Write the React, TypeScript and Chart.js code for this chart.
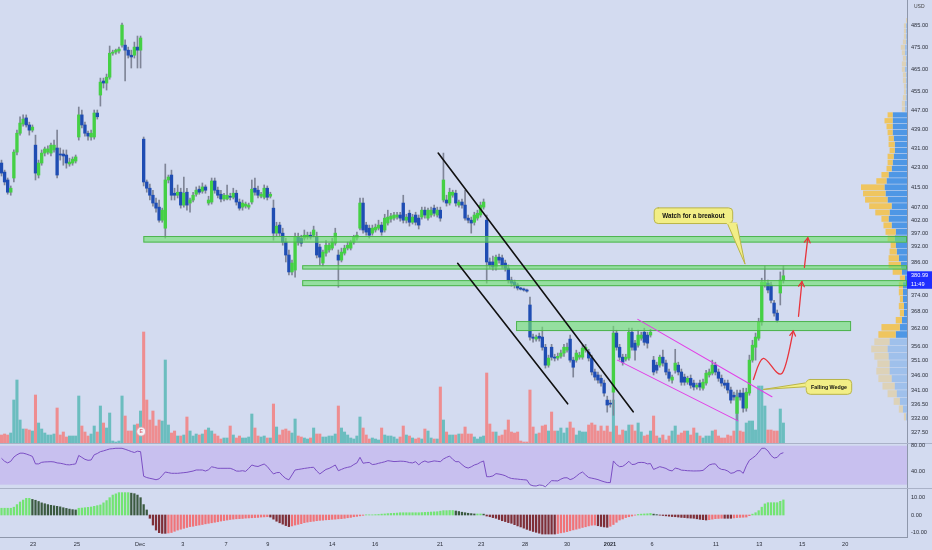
import React, { useEffect, useRef } from "react";
import { Chart, registerables } from "chart.js";

Chart.register(...registerables);

// ---------------- DATA (hourly candles) ----------------
const opens = [
  424.8, 421.1, 417.9, 413.0, 418.7, 429.3, 437.2, 441.1, 443.7, 440.7,
  438.5, 432.2, 419.9, 424.8, 428.9, 429.3, 428.9, 430.2, 431.0, 428.5,
  428.5, 428.1, 424.4, 424.8, 425.6, 435.6, 445.0, 440.7, 437.2, 435.6,
  435.6, 445.8, 453.6, 459.8, 458.9, 461.5, 472.3, 472.8, 473.3, 476.0,
  476.0, 473.7, 471.4, 471.4, 475.1, 473.7, 434.7, 417.1, 414.6, 411.8,
  408.7, 407.1, 402.0, 398.9, 417.9, 419.9, 412.6, 411.8, 413.0, 407.9,
  413.0, 408.7, 409.9, 412.2, 414.2, 413.4, 415.1, 408.7, 409.1, 417.5,
  413.8, 412.2, 410.3, 410.3, 411.4, 411.0, 412.6, 409.1, 407.1, 407.5,
  407.1, 409.1, 414.6, 413.8, 411.4, 411.0, 414.6, 411.4, 406.7, 397.0,
  400.1, 397.0, 393.6, 388.7, 382.4, 383.1, 395.5, 395.1, 395.1, 395.5,
  396.2, 396.2, 395.5, 391.7, 385.7, 389.4, 390.6, 391.3, 393.2, 388.7,
  386.8, 389.4, 391.3, 391.3, 393.6, 395.1, 398.9, 408.7, 400.1, 398.9,
  397.0, 398.2, 398.9, 400.1, 398.2, 400.9, 402.4, 402.8, 403.2, 404.0,
  408.7, 402.0, 404.7, 401.2, 404.0, 402.8, 403.2, 405.9, 402.8, 404.0,
  406.7, 404.0, 405.9, 409.9, 409.9, 408.7, 411.8, 412.6, 407.9, 409.1,
  407.9, 402.8, 402.0, 401.2, 402.8, 404.0, 407.1, 402.0, 386.1, 386.1,
  384.2, 387.9, 387.6, 385.7, 383.8, 379.4, 378.7, 377.6, 376.5, 376.1,
  375.8, 370.4, 359.1, 358.4, 359.4, 359.1, 355.6, 349.5, 355.6, 352.2,
  351.9, 352.5, 353.6, 354.6, 358.4, 351.2, 351.2, 352.2, 352.2, 354.6,
  353.9, 351.9, 347.2, 346.2, 345.1, 343.5, 337.9, 336.9, 340.5, 360.5,
  355.6, 352.2, 351.5, 351.9, 360.8, 357.0, 356.3, 358.7, 360.8, 359.8,
  359.8, 351.2, 349.5, 349.5, 352.2, 350.2, 347.2, 344.5, 347.8, 349.5,
  347.2, 345.5, 343.8, 345.1, 343.5, 342.2, 343.5, 341.8, 343.5, 346.2,
  346.8, 349.5, 347.2, 345.1, 343.5, 343.5, 341.2, 339.5, 333.6, 340.2,
  340.2, 335.3, 340.2, 351.2, 355.6, 358.7, 364.3, 377.6, 378.3, 377.6,
  371.1, 367.5, 374.7, 379.4,
];
const highs = [
  426.0, 421.9, 418.7, 415.5, 430.2, 438.5, 444.2, 445.0, 445.0, 441.9,
  440.7, 436.4, 426.0, 430.2, 431.4, 431.9, 433.1, 434.3, 438.5, 431.0,
  430.2, 430.2, 426.8, 427.3, 428.1, 448.4, 447.1, 441.9, 438.1, 438.5,
  447.1, 447.1, 461.1, 461.1, 462.9, 475.6, 473.7, 474.2, 475.1, 486.3,
  478.4, 475.1, 473.7, 477.4, 480.2, 480.2, 435.6, 417.9, 416.3, 413.8,
  410.7, 409.9, 406.7, 424.4, 419.9, 421.9, 414.6, 415.9, 414.6, 419.1,
  414.6, 410.7, 413.0, 415.1, 415.5, 416.7, 415.9, 411.4, 418.7, 418.7,
  415.1, 413.8, 412.6, 415.9, 412.6, 414.6, 413.8, 410.3, 409.9, 409.1,
  408.7, 417.9, 418.7, 415.5, 413.0, 415.9, 415.5, 413.0, 409.9, 401.2,
  401.2, 398.9, 395.1, 390.6, 386.8, 397.0, 397.0, 396.2, 398.2, 397.4,
  397.4, 399.7, 397.4, 392.8, 390.6, 394.3, 393.2, 395.1, 398.9, 390.6,
  391.3, 392.4, 393.6, 394.3, 396.2, 397.4, 410.7, 410.7, 401.2, 400.1,
  400.1, 400.5, 402.0, 401.2, 404.3, 405.9, 404.7, 405.1, 405.1, 405.1,
  411.8, 404.3, 405.9, 404.3, 405.1, 404.0, 407.1, 407.1, 406.7, 407.1,
  407.9, 407.1, 407.1, 428.9, 411.8, 414.6, 413.8, 413.8, 409.9, 410.3,
  413.8, 404.0, 403.2, 405.1, 405.9, 409.1, 410.3, 404.0, 387.6, 388.3,
  388.7, 389.1, 388.7, 386.8, 385.0, 380.5, 379.4, 378.3, 376.8, 376.5,
  376.1, 373.2, 360.1, 359.8, 360.5, 362.6, 356.6, 352.9, 356.6, 353.2,
  353.6, 354.6, 356.6, 357.0, 359.8, 352.2, 354.6, 353.9, 356.3, 356.6,
  354.9, 352.9, 348.2, 347.2, 346.2, 344.5, 339.2, 337.9, 362.9, 361.5,
  356.6, 353.2, 353.2, 362.2, 362.2, 358.0, 361.5, 360.8, 362.2, 360.8,
  361.8, 352.5, 350.5, 352.9, 354.6, 351.2, 348.2, 346.2, 354.9, 350.5,
  348.2, 346.5, 345.8, 346.2, 344.5, 343.5, 344.5, 344.8, 347.8, 348.2,
  351.2, 350.5, 348.2, 346.2, 344.5, 344.5, 342.2, 340.5, 341.2, 341.2,
  341.8, 341.8, 352.9, 358.0, 360.5, 365.7, 380.1, 384.6, 379.4, 378.7,
  372.1, 368.6, 382.4, 384.6,
];
const lows = [
  419.5, 415.9, 412.2, 411.8, 417.1, 428.1, 436.4, 440.2, 439.8, 436.4,
  437.7, 417.9, 418.7, 423.9, 427.7, 428.5, 427.7, 429.3, 418.7, 426.0,
  423.9, 422.7, 423.5, 423.9, 424.8, 434.3, 439.4, 436.0, 434.3, 434.3,
  434.7, 443.2, 448.8, 456.7, 455.8, 460.6, 471.4, 471.9, 472.3, 475.1,
  459.8, 470.1, 465.6, 470.1, 465.6, 465.6, 415.5, 413.0, 409.9, 407.5,
  405.1, 401.2, 401.2, 395.1, 416.7, 409.9, 409.9, 410.7, 406.7, 407.1,
  405.9, 405.1, 409.1, 411.4, 412.2, 412.6, 412.6, 407.9, 408.3, 412.6,
  410.7, 409.1, 409.5, 409.9, 409.9, 410.3, 407.9, 405.9, 405.9, 406.7,
  406.3, 408.3, 411.8, 410.7, 410.7, 410.3, 409.9, 410.7, 394.3, 395.8,
  395.8, 392.4, 386.1, 381.3, 381.3, 380.5, 392.4, 392.0, 394.3, 394.7,
  394.7, 395.5, 387.6, 385.0, 384.6, 388.3, 389.8, 390.6, 392.4, 376.8,
  386.1, 388.7, 390.6, 390.6, 392.8, 394.3, 398.2, 397.0, 396.2, 395.1,
  396.2, 397.4, 398.2, 396.2, 397.4, 400.1, 401.2, 402.0, 402.4, 401.6,
  400.9, 400.9, 399.7, 400.5, 400.1, 398.6, 402.4, 402.8, 402.0, 403.2,
  403.6, 403.2, 401.6, 409.1, 407.5, 407.9, 411.0, 407.5, 407.1, 406.7,
  402.0, 400.9, 397.0, 400.1, 402.0, 403.2, 406.3, 378.3, 383.8, 383.1,
  383.1, 385.7, 383.8, 382.7, 378.3, 377.2, 376.5, 375.8, 375.8, 375.4,
  375.0, 358.0, 357.3, 357.7, 357.7, 354.6, 348.5, 348.8, 351.2, 350.9,
  351.2, 351.9, 352.5, 353.9, 350.5, 345.5, 350.5, 351.5, 351.5, 353.9,
  350.9, 346.2, 344.5, 343.5, 342.5, 339.2, 334.0, 335.6, 333.0, 354.6,
  351.2, 349.5, 350.9, 351.2, 354.6, 351.2, 355.6, 358.0, 356.3, 355.3,
  359.1, 346.2, 346.8, 348.8, 349.2, 346.2, 344.1, 343.5, 346.8, 346.2,
  342.8, 342.8, 343.1, 341.8, 341.2, 341.5, 341.2, 341.2, 342.8, 345.5,
  346.2, 346.2, 344.1, 342.5, 341.8, 340.2, 336.9, 337.9, 331.4, 337.9,
  334.0, 334.3, 339.5, 350.5, 351.2, 358.0, 363.2, 376.8, 374.7, 371.1,
  366.4, 364.3, 370.4, 378.3,
];
const closes = [
  420.7, 417.1, 413.0, 414.6, 429.3, 437.2, 441.5, 443.2, 440.7, 438.5,
  439.8, 420.7, 424.8, 428.9, 430.6, 430.6, 432.2, 432.2, 419.9, 428.1,
  427.7, 424.8, 425.2, 426.4, 427.3, 445.0, 440.7, 437.2, 436.0, 437.2,
  445.8, 444.2, 459.3, 458.9, 461.5, 472.3, 472.8, 473.7, 474.2, 485.3,
  473.7, 471.4, 470.6, 475.1, 473.7, 479.3, 417.1, 414.6, 411.8, 408.7,
  406.7, 402.0, 405.9, 417.9, 419.1, 411.8, 411.8, 413.0, 407.9, 412.6,
  407.9, 409.9, 411.8, 413.8, 413.0, 415.1, 413.8, 409.9, 417.5, 413.8,
  411.8, 410.3, 411.8, 411.8, 411.0, 412.6, 409.1, 406.7, 408.7, 408.3,
  407.9, 414.2, 413.0, 411.8, 412.2, 414.6, 411.0, 412.2, 397.0, 399.7,
  397.0, 393.6, 388.7, 382.4, 385.7, 395.5, 393.6, 393.2, 396.2, 396.2,
  395.5, 398.2, 388.7, 387.9, 389.8, 392.4, 392.4, 393.6, 397.0, 386.8,
  389.8, 391.3, 392.4, 393.6, 395.5, 396.2, 408.7, 398.2, 397.4, 396.2,
  398.9, 399.3, 400.1, 397.4, 402.8, 403.2, 403.6, 404.0, 404.0, 402.8,
  402.0, 403.2, 401.2, 403.2, 401.2, 400.1, 405.9, 404.0, 405.9, 405.9,
  404.7, 405.9, 402.8, 417.9, 408.7, 413.0, 413.0, 408.7, 409.1, 407.9,
  402.8, 402.0, 400.9, 404.0, 404.7, 407.9, 409.1, 386.1, 385.0, 384.2,
  387.9, 386.8, 385.0, 383.8, 379.4, 378.3, 377.6, 376.5, 376.1, 375.8,
  375.4, 359.1, 358.7, 359.1, 358.7, 355.6, 349.5, 351.9, 352.2, 351.9,
  352.5, 353.6, 355.6, 355.6, 351.2, 348.8, 353.6, 352.9, 355.3, 355.6,
  351.9, 347.2, 345.5, 344.5, 343.5, 340.2, 336.3, 336.6, 360.5, 355.6,
  352.2, 350.5, 352.2, 360.8, 355.6, 354.6, 359.8, 359.8, 357.3, 357.0,
  360.8, 347.2, 347.8, 352.2, 350.2, 347.2, 345.1, 345.5, 350.2, 347.2,
  343.8, 343.8, 345.1, 342.8, 342.2, 342.8, 342.2, 343.8, 346.8, 347.2,
  349.5, 347.2, 345.1, 343.5, 342.8, 341.2, 337.9, 338.9, 338.9, 338.9,
  335.3, 340.5, 351.2, 356.3, 359.1, 364.3, 378.7, 378.7, 375.8, 372.1,
  367.5, 365.0, 379.4, 380.99,
];
// volume (x100k shares)
const volumes = [
  8, 9, 8, 10, 43, 63, 23, 14, 14, 13,
  12, 48, 20, 14, 10, 8, 8, 9, 35, 8,
  11, 6, 7, 7, 7, 47, 17, 11, 7, 9,
  17, 11, 37, 20, 15, 30, 2, 1, 2, 47,
  27, 12, 12, 18, 19, 32, 111, 43, 23, 32,
  17, 23, 22, 83, 18, 10, 12, 7, 7, 8,
  26, 12, 7, 9, 8, 9, 13, 15, 12, 9,
  7, 4, 5, 5, 17, 8, 5, 7, 5, 5,
  6, 29, 15, 7, 6, 7, 5, 5, 39, 16,
  8, 13, 14, 12, 10, 24, 7, 6, 5, 4,
  5, 15, 9, 9, 6, 6, 7, 7, 9, 37,
  15, 11, 8, 5, 4, 7, 26, 15, 8, 4,
  5, 4, 3, 15, 8, 7, 7, 6, 4, 6,
  17, 8, 7, 5, 4, 5, 4, 14, 12, 5,
  4, 4, 56, 23, 11, 8, 8, 8, 9, 9,
  16, 9, 9, 6, 4, 6, 7, 70, 19, 11,
  11, 7, 8, 13, 23, 11, 10, 11, 2, 1,
  1, 53, 16, 9, 10, 17, 18, 12, 31, 12,
  12, 15, 10, 15, 21, 15, 8, 12, 11, 11,
  18, 20, 18, 12, 17, 12, 17, 11, 43, 17,
  8, 13, 12, 18, 18, 12, 20, 11, 7, 8,
  12, 27, 7, 5, 8, 3, 7, 12, 17, 8,
  10, 12, 12, 8, 15, 10, 7, 5, 7, 7,
  12, 13, 7, 5, 5, 8, 7, 12, 50, 12,
  11, 20, 22, 22, 13, 57, 57, 37, 13, 13,
  12, 12, 34, 20,
];
const rsi = [
  60.6, 56, 53.5, 56, 62.5, 66, 68.5, 68.5, 67.2, 65.5,
  63.5, 52, 52, 54.4, 55, 55.2, 55.4, 55, 53.5, 53,
  52, 50.8, 50.5, 51.2, 52, 65, 62, 59, 57.5, 58,
  66, 68, 70.8, 72, 73.5, 75, 75.4, 76, 76, 76,
  74.5, 72.8, 71, 69.5, 71.5, 70.8, 33, 31, 29.8, 28.8,
  27.6, 29, 34, 39.5, 38.5, 37.5, 37.5, 37.5, 38, 38.5,
  39, 40, 41, 42.6, 42.6, 42.6, 41, 43, 47.5, 46.5,
  45.2, 45.2, 45.2, 45.2, 45.2, 43.5, 41, 40.8, 41.5, 40.5,
  45, 50.3, 48.7, 48, 50, 51.8, 48, 42, 36.5, 38.5,
  38.8, 33.5, 29.5, 27.5, 35, 42.6, 43.4, 44.2, 45, 45.7,
  46.4, 46.8, 41, 36.5, 40, 43.5, 45, 47.5, 50.3, 41.5,
  43.5, 45.5, 46.7, 47.8, 51, 53.5, 62.1, 53, 53.8, 54.2,
  51, 51.5, 52.9, 54, 55.2, 56.9, 56.3, 55.6, 55.8, 56.2,
  56, 55.4, 54, 53.5, 55.4, 50.5, 54.5, 56.5, 54.5, 55.5,
  56.6, 56, 55.4, 59.5, 62, 64, 59, 55.4, 55.4, 51,
  47.2, 45.6, 47.5, 50.3, 51.8, 54.5, 56.5, 32.3, 32.3, 33.5,
  37, 36.3, 35.3, 33.8, 31.2, 29.6, 29, 28.6, 28, 27.6,
  27.2, 20, 18.3, 18, 19.5, 19, 16.9, 21.5, 26.2, 26,
  25.8, 28.5, 30.5, 30.7, 27.8, 29.5, 33, 37, 39.5, 35,
  31, 30, 29, 27.8, 26, 24.5, 23.3, 23.2, 56.5, 51,
  47.7, 48.2, 51.5, 56, 51, 51.5, 54, 54.3, 54, 52,
  52.5, 43.5, 45.5, 47.7, 46.5, 45, 42.3, 41.2, 45.5, 44.5,
  42.4, 42, 41.5, 41.3, 41.1, 41.2, 41.3, 42, 46, 50.3,
  51.8, 52, 46, 43.5, 43, 41, 37.5, 38.5, 41.5, 41.5,
  37.5, 49, 57.5, 61, 64.5, 70, 76, 76, 72, 65,
  61, 62, 67.5, 69.2,
];
const macdHist = [
  3.9, 3.9, 3.9, 3.9, 4.5, 6.0, 7.5, 8.6, 9.6, 9.6,
  9.0, 8.5, 7.8, 7.0, 6.5, 6.0, 5.6, 5.3, 5.0, 4.7,
  4.2, 3.8, 3.4, 3.1, 2.9, 3.9, 4.0, 4.2, 4.4, 4.6,
  5.0, 5.4, 5.8, 7.0, 8.3, 10.0, 11.5, 12.2, 12.9, 12.9,
  12.9, 12.9, 12.6, 12.3, 11.5, 10.0, 6.0, 2.9, -1.9, -5.8,
  -8.7, -10.2, -10.6, -10.6, -10.4, -10.1, -9.4, -8.7, -8.2, -7.7,
  -7.2, -6.7, -6.5, -6.1, -5.8, -5.5, -5.1, -4.8, -4.5, -4.2,
  -3.9, -3.5, -3.2, -2.9, -2.6, -2.4, -2.2, -2.1, -2.0, -1.8,
  -1.7, -1.6, -1.5, -1.4, -1.2, -1.1, -1.0, -1.2, -2.4, -3.6,
  -4.5, -5.3, -6.1, -6.7, -6.3, -5.8, -5.4, -5.0, -4.4, -4.1,
  -3.8, -3.6, -3.3, -3.1, -3.0, -2.8, -2.7, -2.5, -2.4, -2.2,
  -2.1, -1.9, -1.6, -1.4, -1.0, -0.8, -0.5, -0.2, 0.1, 0.1,
  0.1, 0.2, 0.3, 0.5, 0.6, 0.8, 0.9, 1.0, 1.1, 1.3,
  1.3, 1.3, 1.3, 1.3, 1.3, 1.3, 1.4, 1.5, 1.6, 1.7,
  1.8, 1.9, 2.2, 2.5, 2.5, 2.6, 2.6, 2.3, 2.0, 1.6,
  1.3, 1.0, 0.8, 0.6, 0.6, 0.6, 0.5, -0.6, -1.0, -1.5,
  -1.9, -2.6, -3.3, -3.8, -4.4, -4.8, -5.6, -6.3, -6.9, -7.6,
  -8.3, -8.9, -9.5, -10.0, -10.5, -11.0, -11.0, -11.0, -11.0, -11.0,
  -10.7, -10.3, -10.0, -9.6, -9.1, -8.6, -8.2, -7.7, -7.2, -6.8,
  -6.3, -5.9, -5.8, -6.2, -6.6, -6.9, -7.1, -6.5, -5.5, -4.2,
  -2.9, -2.3, -1.5, -1.0, -0.6, -0.1, 0.3, 0.5, 0.6, 0.7,
  0.9, 0.5, 0.2, -0.1, -0.3, -0.5, -0.7, -0.9, -1.0, -1.2,
  -1.4, -1.5, -1.7, -1.8, -1.9, -2.2, -2.5, -2.7, -2.9, -2.7,
  -2.4, -2.1, -2.0, -1.9, -1.9, -1.9, -1.9, -1.7, -1.5, -1.4,
  -1.3, -1.2, -0.4, 0.5, 1.3, 2.5, 4.5, 6.4, 7.1, 7.1,
  7.1, 7.1, 7.9, 8.7,
];

// volume profile (visible range) — price rows, up volume, down volume
const vpPrice = [
  332.5, 335, 337.5, 340, 342.5, 345, 347.5, 350, 352.5, 355, 357.5, 360, 362.5,
  365, 367.5, 370, 372.5, 375, 377.5, 380, 382.5, 385, 387.5, 390, 392.5, 395,
  397.5, 400, 402.5, 405, 407.5, 410, 412.5, 415, 417.5, 420, 422.5, 425, 427.5,
  430, 432.5, 435, 437.5, 440, 442.5, 445, 447.5, 450, 452.5, 455, 457.5, 460,
  462.5, 465, 467.5, 470, 472.5, 475, 477.5, 480, 482.5, 485, 487.5,
];
const vpUp = [
  1, 4, 7, 10, 12, 15, 17, 17, 18, 19, 17, 11, 7,
  5, 3, 3, 4, 4, 4, 2, 5, 6, 8, 10, 11, 12,
  11, 15, 18, 17, 15, 19, 21, 22, 20, 18, 15, 14, 13,
  12, 12, 13, 14, 14, 14, 14, 2, 2, 1, 1, 1, 1,
  1, 2, 1, 1, 2, 2, 1, 1, 1, 1, 0,
];
const vpDown = [
  2, 4, 6, 9, 12, 13, 13, 12, 14, 16, 15, 17, 18,
  6, 4, 5, 3, 4, 4, 5, 9, 12, 10, 7, 5, 7,
  10, 8, 7, 14, 22, 22, 22, 23, 10, 7, 5, 5, 6,
  5, 6, 5, 5, 6, 8, 5, 3, 3, 3, 2, 2, 3,
  3, 3, 4, 3, 3, 4, 3, 2, 2, 2, 1,
];
const vpValueArea = [359, 446];

// axes
const priceTicks = [485, 475, 465, 455, 447, 439, 431, 423, 415, 407, 402, 397, 392, 386, 374, 368, 362, 356, 351, 346, 341, 336.5, 332, 327.5];
const rsiTicks = [80, 40];
const rsiBand = [20, 80];
const macdTicks = [10, 0, -10];
const timeTickPos = [10.2, 24.4, 44.8, 58.7, 72.7, 86.2, 107.0, 120.9, 141.9, 155.2, 169.4, 183.0, 196.9, 210.5, 231.2, 245.2, 259.1, 273.0];
const timeTickLabels = ["23", "25", "Dec", "3", "7", "9", "14", "16", "21", "23", "28", "30", "2021", "6", "11", "13", "15", "20"];

// drawings (bar index, price)
const zoneFrom = [45.9, 97.3, 97.3, 166.5];
const zoneTo = [null, null, null, 274.9];
const zoneLo = [393.4, 383.3, 377.2, 361.2];
const zoneHi = [395.9, 384.9, 379.4, 364.7];
const channelLines = [
  [141.3, 428.9, 204.4, 334.1],
  [147.6, 385.6, 183.2, 336.7],
];
const wedgeLines = [
  [205.9, 365.3, 249.3, 339.0],
  [199.3, 351.2, 238.3, 331.2],
];
const redCurve = [[243.3, 344.7], [246.5, 351.8], [252.5, 346.7], [256.2, 361.2]];
const redArrows = [
  [257.9, 366.4, 259.0, 378.8],
  [259.8, 384.1, 260.9, 395.2],
];
const callouts = [
  { text: "Watch for a breakout", x0: 211.2, x1: 236.6, pLo: 400.7, pHi: 406.8, tail: [[234.9, 400.7], [237.9, 400.7], [240.6, 385.3]], size: 6.3 },
  { text: "Falling Wedge", x0: 260.4, x1: 275.1, pLo: 339.8, pHi: 344.7, tail: [[260.4, 343.6], [260.4, 342.3], [246.5, 341.4]], size: 5.3 },
];
const earningsMark = [45.2, 327.8];
const countdown = "11:49";

// ---------------- STYLE ----------------
const BG = "#d3dbf0";
const SEP = "#aab2c8";
const TXT = "#2a2e39";
const AXIS_LINE = "#8e97ab";
const FONT = '"Liberation Sans", Arial, sans-serif';
const UP = "#45d045";
const DOWN = "#1f4db3";
const WICK = "#7f8597";
const VOL_UP = "#6bbdbf";
const VOL_DN = "#ee8d90";
const X_MIN = -0.485;
const X_MAX = 293.0;
const AXIS_W = 25;
const RSI_TOP_PAD = 3;

const fitRight = (s: any) => {
  s.width = AXIS_W;
  s.paddingTop = 0;
  s.paddingBottom = 0;
};
const axisTicks = (extra: any = {}) => ({
  font: { size: 5.6, family: FONT },
  color: TXT,
  padding: 4,
  autoSkip: false,
  ...extra,
});
const noGrid = { display: false, drawTicks: false, tickLength: 0 };
const xHidden = { type: "linear", display: false, min: X_MIN, max: X_MAX, offset: false };
const common = {
  animation: false,
  responsive: true,
  maintainAspectRatio: false,
  events: [],
  layout: { padding: 0 },
  plugins: { legend: { display: false }, tooltip: { enabled: false } },
};

function arrowHead(ctx: any, fx: number, fy: number, tx: number, ty: number, len = 6) {
  const a = Math.atan2(ty - fy, tx - fx);
  ctx.beginPath();
  ctx.moveTo(tx + len * Math.cos(a + Math.PI - 0.55), ty + len * Math.sin(a + Math.PI - 0.55));
  ctx.lineTo(tx, ty);
  ctx.lineTo(tx + len * Math.cos(a + Math.PI + 0.55), ty + len * Math.sin(a + Math.PI + 0.55));
  ctx.stroke();
}

function roundRect(ctx: any, x: number, y: number, w: number, h: number, r: number) {
  ctx.beginPath();
  ctx.moveTo(x + r, y);
  ctx.lineTo(x + w - r, y);
  ctx.quadraticCurveTo(x + w, y, x + w, y + r);
  ctx.lineTo(x + w, y + h - r);
  ctx.quadraticCurveTo(x + w, y + h, x + w - r, y + h);
  ctx.lineTo(x + r, y + h);
  ctx.quadraticCurveTo(x, y + h, x, y + h - r);
  ctx.lineTo(x, y + r);
  ctx.quadraticCurveTo(x, y, x + r, y);
  ctx.closePath();
}

const priceDecor = {
  id: "priceDecor",
  afterDatasetsDraw(chart: any) {
    const { ctx, chartArea: ca, scales } = chart;
    const X = (v: number) => scales.x.getPixelForValue(v);
    const Y = (v: number) => scales.y.getPixelForValue(v);
    ctx.save();
    ctx.beginPath();
    ctx.rect(ca.left, ca.top, ca.right - ca.left, ca.bottom - ca.top);
    ctx.clip();

    // volume profile
    let maxTot = 0;
    vpPrice.forEach((_, i) => (maxTot = Math.max(maxTot, vpUp[i] + vpDown[i])));
    const k = 46 / maxTot;
    vpPrice.forEach((p, i) => {
      const y0 = Y(p + 1.25);
      const y1 = Y(p - 1.25);
      const h = Math.max(1, y1 - y0 - 0.6);
      const strong = p >= vpValueArea[0] && p <= vpValueArea[1];
      ctx.globalAlpha = strong ? 0.9 : 0.35;
      const bw = vpUp[i] * k;
      const sw = vpDown[i] * k;
      ctx.fillStyle = "#3f8fe3";
      ctx.fillRect(ca.right - bw, y0 + 0.3, bw, h);
      ctx.fillStyle = "#f2c24f";
      ctx.fillRect(ca.right - bw - sw, y0 + 0.3, sw, h);
    });
    ctx.globalAlpha = 1;

    // zones
    zoneFrom.forEach((f, i) => {
      const x0 = X(f);
      const x1 = zoneTo[i] == null ? ca.right : X(zoneTo[i] as number);
      const y0 = Y(zoneHi[i]);
      const y1 = Y(zoneLo[i]);
      ctx.fillStyle = "rgba(112, 226, 112, 0.62)";
      ctx.fillRect(x0, y0, x1 - x0, y1 - y0);
      ctx.strokeStyle = "rgba(70, 175, 70, 0.9)";
      ctx.lineWidth = 1;
      ctx.strokeRect(x0 + 0.5, y0 + 0.5, x1 - x0 - 1, y1 - y0 - 1);
    });

    // channel lines
    ctx.lineCap = "round";
    ctx.strokeStyle = "#111111";
    ctx.lineWidth = 1.6;
    channelLines.forEach(([a, p, b, q]) => {
      ctx.beginPath();
      ctx.moveTo(X(a), Y(p));
      ctx.lineTo(X(b), Y(q));
      ctx.stroke();
    });
    ctx.strokeStyle = "#e23ee6";
    ctx.lineWidth = 1.1;
    wedgeLines.forEach(([a, p, b, q]) => {
      ctx.beginPath();
      ctx.moveTo(X(a), Y(p));
      ctx.lineTo(X(b), Y(q));
      ctx.stroke();
    });

    // red projection curve + arrows
    ctx.strokeStyle = "#e8343c";
    ctx.lineWidth = 1.3;
    const pts = redCurve.map(([i, p]) => [X(i), Y(p)]);
    ctx.beginPath();
    ctx.moveTo(pts[0][0], pts[0][1]);
    for (let j = 0; j < pts.length - 1; j++) {
      const p0 = pts[Math.max(0, j - 1)];
      const p1 = pts[j];
      const p2 = pts[j + 1];
      const p3 = pts[Math.min(pts.length - 1, j + 2)];
      ctx.bezierCurveTo(
        p1[0] + (p2[0] - p0[0]) / 6, p1[1] + (p2[1] - p0[1]) / 6,
        p2[0] - (p3[0] - p1[0]) / 6, p2[1] - (p3[1] - p1[1]) / 6,
        p2[0], p2[1]
      );
    }
    ctx.stroke();
    const n = pts.length;
    arrowHead(ctx, pts[n - 2][0] + (pts[n - 1][0] - pts[n - 2][0]) * 0.6, pts[n - 2][1] + (pts[n - 1][1] - pts[n - 2][1]) * 0.2, pts[n - 1][0], pts[n - 1][1], 5.5);
    redArrows.forEach(([a, p, b, q]) => {
      const fx = X(a), fy = Y(p), tx = X(b), ty = Y(q);
      ctx.beginPath();
      ctx.moveTo(fx, fy);
      ctx.lineTo(tx, ty);
      ctx.stroke();
      arrowHead(ctx, fx, fy, tx, ty, 5.5);
    });

    // callouts
    callouts.forEach((c) => {
      const x0 = X(c.x0), x1 = X(c.x1), y0 = Y(c.pHi), y1 = Y(c.pLo);
      ctx.fillStyle = "#f2ee86";
      ctx.strokeStyle = "#b9b447";
      ctx.lineWidth = 1;
      ctx.beginPath();
      ctx.moveTo(X(c.tail[0][0]), Y(c.tail[0][1]));
      ctx.lineTo(X(c.tail[2][0]), Y(c.tail[2][1]));
      ctx.lineTo(X(c.tail[1][0]), Y(c.tail[1][1]));
      ctx.closePath();
      ctx.fill();
      ctx.stroke();
      roundRect(ctx, x0, y0, x1 - x0, y1 - y0, 4);
      ctx.fill();
      ctx.stroke();
      ctx.beginPath();
      ctx.moveTo(X(c.tail[0][0]), Y(c.tail[0][1]));
      ctx.lineTo(X(c.tail[1][0]), Y(c.tail[1][1]));
      ctx.strokeStyle = "#f2ee86";
      ctx.lineWidth = 1.4;
      ctx.stroke();
      ctx.fillStyle = "#111111";
      ctx.font = `bold ${c.size}px ${FONT}`;
      ctx.textAlign = "center";
      ctx.textBaseline = "middle";
      ctx.fillText(c.text, (x0 + x1) / 2, (y0 + y1) / 2 + 0.3);
    });

    // earnings marker
    const ex = X(earningsMark[0]), ey = Y(earningsMark[1]);
    ctx.fillStyle = "#f4f1f6";
    ctx.strokeStyle = "#d9a0a8";
    ctx.lineWidth = 0.8;
    ctx.beginPath();
    ctx.arc(ex, ey, 4.5, 0, Math.PI * 2);
    ctx.fill();
    ctx.stroke();
    ctx.fillStyle = "#e06b78";
    ctx.font = `bold 5px ${FONT}`;
    ctx.textAlign = "center";
    ctx.textBaseline = "middle";
    ctx.fillText("E", ex, ey + 0.3);
    ctx.restore();
  },
  afterDraw(chart: any) {
    const { ctx, chartArea: ca, scales } = chart;
    const last = closes[closes.length - 1];
    const y = scales.y.getPixelForValue(last);
    ctx.save();
    ctx.fillStyle = "#1f2eff";
    ctx.fillRect(ca.right, y - 4.5, AXIS_W, 17.5);
    ctx.fillStyle = "#ffffff";
    ctx.font = `5.6px ${FONT}`;
    ctx.textAlign = "left";
    ctx.textBaseline = "middle";
    ctx.fillText(last.toFixed(2), ca.right + 4, y);
    ctx.fillText(countdown, ca.right + 4, y + 8.6);
    ctx.fillStyle = "#444";
    ctx.font = `5px ${FONT}`;
    ctx.fillText("USD", ca.right + 7, 6.5);
    ctx.restore();
  },
};

const rsiBandPlugin = {
  id: "rsiBand",
  beforeDraw(chart: any) {
    const { ctx, width, height } = chart;
    ctx.save();
    ctx.fillStyle = BG;
    ctx.fillRect(0, RSI_TOP_PAD, width, height - RSI_TOP_PAD);
    ctx.restore();
  },
  beforeDatasetsDraw(chart: any) {
    const { ctx, chartArea: ca, scales } = chart;
    const t = scales.y.getPixelForValue(rsiBand[1]);
    const b = scales.y.getPixelForValue(rsiBand[0]);
    ctx.save();
    ctx.fillStyle = "#c8c0ef";
    ctx.fillRect(ca.left, t, ca.right - ca.left, b - t);
    ctx.restore();
  },
};

const boldIndex = timeTickLabels.indexOf("2021");

export default function App() {
  const priceRef = useRef<HTMLCanvasElement>(null);
  const rsiRef = useRef<HTMLCanvasElement>(null);
  const macdRef = useRef<HTMLCanvasElement>(null);

  useEffect(() => {
    const idx = closes.map((_, i) => i);
    const isUp = idx.map((i) => closes[i] >= opens[i]);

    const price = new Chart(priceRef.current as any, {
      type: "bar",
      data: {
        datasets: [
          {
            data: idx.map((i) => ({ x: i, y: volumes[i] })),
            yAxisID: "yv",
            backgroundColor: idx.map((i) => (isUp[i] ? VOL_UP : VOL_DN)),
            barThickness: 2.4,
            grouped: false,
            order: 3,
          },
          {
            data: idx.map((i) => ({ x: i, y: [lows[i], highs[i]] })),
            yAxisID: "y",
            backgroundColor: WICK,
            barThickness: 1,
            grouped: false,
            order: 2,
          },
          {
            data: idx.map((i) => ({ x: i, y: [opens[i], closes[i]] })),
            yAxisID: "y",
            backgroundColor: idx.map((i) => (isUp[i] ? UP : DOWN)),
            barThickness: 2.7,
            minBarLength: 1,
            grouped: false,
            order: 1,
          },
        ],
      } as any,
      options: {
        ...common,
        scales: {
          x: xHidden,
          y: {
            type: "logarithmic",
            position: "right",
            min: 324.2,
            max: 497.2,
            afterBuildTicks: (s: any) => {
              s.ticks = priceTicks.map((v) => ({ value: v }));
            },
            afterFit: fitRight,
            grid: noGrid,
            border: { display: true, color: AXIS_LINE },
            ticks: axisTicks({ callback: (v: any) => Number(v).toFixed(2) }),
          },
          yv: { type: "linear", display: false, min: 0, max: 443 },
        },
      } as any,
      plugins: [priceDecor],
    });

    const rsiChart = new Chart(rsiRef.current as any, {
      type: "line",
      data: {
        datasets: [
          {
            data: idx.map((i) => ({ x: i, y: rsi[i] })),
            borderColor: "#7b4fc4",
            borderWidth: 1,
            pointRadius: 0,
            tension: 0,
            fill: false,
          },
        ],
      } as any,
      options: {
        ...common,
        layout: { padding: { top: RSI_TOP_PAD, bottom: 0, left: 0, right: 0 } },
        scales: {
          x: xHidden,
          y: {
            type: "linear",
            position: "right",
            min: 14.9,
            max: 82.6,
            afterBuildTicks: (s: any) => {
              s.ticks = rsiTicks.map((v) => ({ value: v }));
            },
            afterFit: fitRight,
            grid: noGrid,
            border: { display: true, color: AXIS_LINE },
            ticks: axisTicks({ callback: (v: any) => Number(v).toFixed(2) }),
          },
        },
      } as any,
      plugins: [rsiBandPlugin],
    });

    const macdColors = macdHist.map((v, i) => {
      const prev = i > 0 ? macdHist[i - 1] : v;
      if (v >= 0) return v >= prev ? "#73e473" : "#3b5a40";
      return v <= prev ? "#7f2f38" : "#f07378";
    });

    const macdChart = new Chart(macdRef.current as any, {
      type: "bar",
      data: {
        datasets: [
          {
            data: idx.map((i) => ({ x: i, y: macdHist[i] })),
            backgroundColor: macdColors,
            barThickness: 1.6,
            grouped: false,
          },
        ],
      } as any,
      options: {
        ...common,
        scales: {
          x: {
            type: "linear",
            position: "bottom",
            min: X_MIN,
            max: X_MAX,
            offset: false,
            afterBuildTicks: (s: any) => {
              s.ticks = timeTickPos.map((v) => ({ value: v }));
            },
            afterFit: (s: any) => {
              s.height = 13;
              s.paddingLeft = 0;
              s.paddingRight = 0;
            },
            grid: noGrid,
            border: { display: true, color: AXIS_LINE },
            ticks: {
              autoSkip: false,
              maxRotation: 0,
              minRotation: 0,
              padding: 4,
              color: TXT,
              font: (c: any) => ({
                size: 5.6,
                family: FONT,
                weight: c.index === boldIndex ? "bold" : "normal",
              }),
              callback: (_v: any, i: number) => timeTickLabels[i],
            },
          },
          y: {
            type: "linear",
            position: "right",
            min: -12.7,
            max: 15.0,
            afterBuildTicks: (s: any) => {
              s.ticks = macdTicks.map((v) => ({ value: v }));
            },
            afterFit: fitRight,
            grid: noGrid,
            border: { display: true, color: AXIS_LINE },
            ticks: axisTicks({ callback: (v: any) => Number(v).toFixed(2) }),
          },
        },
      } as any,
    });

    return () => {
      price.destroy();
      rsiChart.destroy();
      macdChart.destroy();
    };
  }, []);

  const pane = (top: number, h: number, bg: string): React.CSSProperties => ({
    position: "absolute",
    left: 0,
    top,
    width: 932,
    height: h,
    background: bg,
  });

  return (
    <div style={{ position: "fixed", left: 0, top: 0, width: 932, height: 550, background: SEP, overflow: "hidden" }}>
      <div style={pane(0, 443, BG)}>
        <canvas ref={priceRef} />
      </div>
      <div style={pane(444 - RSI_TOP_PAD, 44 + RSI_TOP_PAD, "transparent")}>
        <canvas ref={rsiRef} />
      </div>
      <div style={pane(489, 61, BG)}>
        <canvas ref={macdRef} />
      </div>
    </div>
  );
}
